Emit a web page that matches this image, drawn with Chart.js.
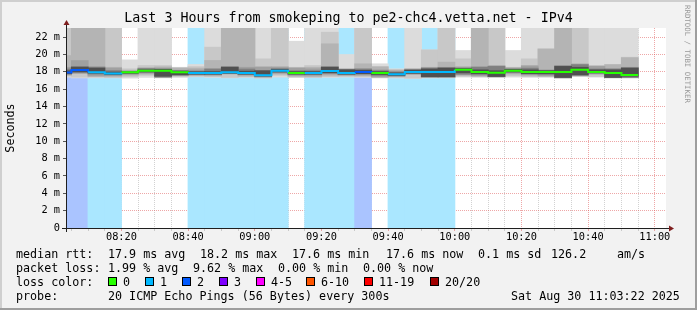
<!DOCTYPE html>
<html>
<head>
<meta charset="utf-8">
<script src="https://cdn.jsdelivr.net/npm/chart.js@4.4.1/dist/chart.umd.min.js"></script>
<style>
  body { margin: 0; background: #fff; }
  #wrap { position: relative; width: 697px; height: 310px; font-family: 'DejaVu Sans Mono', monospace; }
  #wrap canvas { position: absolute; left: 0; top: 0; }
  .leg { position: absolute; font-size: 11.7px; line-height: 14px; white-space: pre; color: #000; }
  .sq { position: absolute; width: 7px; height: 7px; border: 1px solid #000; }
</style>
</head>
<body>
<div id="wrap">
  <canvas id="smoke" width="697" height="310"></canvas>
  <div id="legend"></div>
</div>
<script>
// 5 minute bins, start time of each one
const binTimes = ['08:00', '08:05', '08:10', '08:15', '08:20', '08:25', '08:30', '08:35', '08:40', '08:45',
  '08:50', '08:55', '09:00', '09:05', '09:10', '09:15', '09:20', '09:25', '09:30', '09:35',
  '09:40', '09:45', '09:50', '09:55', '10:00', '10:05', '10:10', '10:15', '10:20', '10:25',
  '10:30', '10:35', '10:40', '10:45', '10:50', '10:55', '11:00'];
const graphStart = '08:03:22';
const graphEnd = '11:03:22';
const xLabelTimes = ['08:20', '08:40', '09:00', '09:20', '09:40', '10:00', '10:20', '10:40', '11:00'];
const rttTicks = [0, 1, 2, 3, 4, 5, 6, 7, 8, 9, 10, 11, 12, 13, 14, 15, 16, 17, 18, 19, 20, 21, 22, 23];
const rttTop = 23.04; // ms

// median rtt (ms) and lost pings (of 20) per bin
const medianRtt = [17.9, 18.2, 17.95, 17.8, 17.93, 18.12, 18.12, 17.95, 17.86, 17.86,
  17.93, 17.86, 17.6, 18.12, 17.86, 17.87, 18.09, 17.86, 17.97, 17.86,
  17.72, 17.97, 17.97, 17.97, 18.22, 17.97, 17.89, 18.12, 17.97, 17.97,
  17.97, 18.22, 17.97, 17.86, 17.63, null, null];
const lossCount = [2, 2, 1, 1, 0, 0, 0, 0, 1, 1,
  1, 1, 1, 1, 0, 1, 1, 1, 2, 0,
  1, 1, 1, 1, 0, 0, 0, 0, 0, 0,
  0, 0, 0, 0, 0, null, null];

// smoke: ping spread per bin, outer layer (1) to inner layer (6), in ms
const smokeHi1 = [24.5, 24.5, 24.5, 24.5, 19.35, 24.5, 24.5, 18.5, 18.82, 24.5,
  24.5, 24.5, 24.5, 24.5, 21.5, 24.5, 24.5, 19.97, 24.5, 18.9,
  18.32, 24.5, 20.5, 24.5, 20.43, 24.5, 24.5, 20.43, 24.5, 24.5,
  24.5, 24.5, 24.5, 24.5, 24.5, null, null];
const smokeHi2 = [24.5, 24.5, 24.5, 24.5, 18.32, 18.7, 18.7, 18.45, 18.58, 20.82,
  24.5, 24.5, 19.47, 24.5, 18.5, 18.7, 22.54, 18.32, 24.5, 18.58,
  18.25, 18.32, 20.5, 24.5, 19.47, 24.5, 24.5, 18.5, 19.47, 20.62,
  24.5, 24.5, 18.7, 18.82, 19.66, null, null];
const smokeHi3 = [19.85, 24.5, 24.5, 18.5, 18.15, 18.43, 18.55, 18.4, 18.4, 19.28,
  24.5, 24.5, 18.58, 18.58, 18.45, 18.5, 21.2, 18.3, 18.9, 18.55,
  18.15, 18.3, 18.5, 19.09, 18.58, 24.5, 18.7, 18.45, 18.7, 20.6,
  24.5, 18.9, 18.65, 18.8, 19.6, null, null];
const smokeHi4 = [18.5, 19.27, 18.58, 18.4, 18.05, 18.4, 18.4, 18.15, 18.2, 18.32,
  18.58, 18.5, 18.5, 18.5, 18.4, 18.32, 18.58, 18.28, 18.32, 18.2,
  18.05, 18.28, 18.45, 18.5, 18.5, 18.58, 18.65, 18.4, 18.65, 18.2,
  18.7, 18.85, 18.6, 18.32, 18.5, null, null];
const smokeHi5 = [18.3, 18.6, 18.5, 18.12, 18.0, 18.35, 18.3, 18.1, 18.05, 18.3,
  18.55, 18.3, 18.12, 18.35, 18.1, 18.1, 18.55, 18.25, 18.3, 18.1,
  17.95, 18.25, 18.4, 18.45, 18.4, 18.5, 18.6, 18.3, 18.4, 18.15,
  18.65, 18.8, 18.3, 18.3, 18.45, null, null];
const smokeHi6 = [18.1, 18.5, 18.4, 17.95, 17.97, 18.2, 18.25, 18.05, 17.98, 18.0,
  18.5, 18.05, 18.1, 18.25, 18.0, 18.0, 18.5, 18.2, 18.15, 18.0,
  17.85, 18.15, 18.3, 18.4, 18.35, 18.2, 18.1, 18.25, 18.2, 18.1,
  18.6, 18.5, 18.2, 18.2, 18.4, null, null];
const smokeLo1 = [17.4, 17.3, 17.3, 17.3, 17.28, 17.36, 17.3, 17.36, 17.43, 17.36,
  17.3, 17.36, 17.28, 17.4, 17.36, 17.36, 17.36, 17.4, 17.36, 17.3,
  17.3, 17.25, 17.3, 17.3, 17.4, 17.36, 17.36, 17.4, 17.36, 17.36,
  17.28, 17.45, 17.4, 17.3, 17.3, null, null];
const smokeLo2 = [17.5, 17.4, 17.4, 17.38, 17.43, 17.6, 17.35, 17.45, 17.5, 17.45,
  17.36, 17.43, 17.3, 17.6, 17.4, 17.4, 17.45, 17.5, 17.45, 17.36,
  17.36, 17.28, 17.35, 17.35, 17.5, 17.45, 17.4, 17.55, 17.45, 17.45,
  17.3, 17.5, 17.47, 17.32, 17.32, null, null];
const smokeLo3 = [17.6, 17.8, 17.45, 17.43, 17.6, 17.74, 17.38, 17.6, 17.6, 17.55,
  17.75, 17.5, 17.35, 17.74, 17.5, 17.43, 17.6, 17.55, 17.55, 17.4,
  17.45, 17.7, 17.38, 17.38, 17.6, 17.5, 17.43, 17.75, 17.55, 17.5,
  17.32, 17.55, 17.7, 17.33, 17.34, null, null];
const smokeLo4 = [17.7, 17.85, 17.55, 17.6, 17.7, 17.85, 17.4, 17.63, 17.65, 17.65,
  17.8, 17.65, 17.45, 17.85, 17.6, 17.6, 17.74, 17.65, 17.65, 17.43,
  17.5, 17.75, 17.4, 17.4, 17.7, 17.55, 17.45, 17.85, 17.7, 17.55,
  17.34, 17.6, 17.8, 17.34, 17.36, null, null];
const smokeLo5 = [17.75, 17.95, 17.75, 17.65, 17.8, 17.95, 17.42, 17.65, 17.7, 17.7,
  17.82, 17.7, 17.5, 17.95, 17.7, 17.7, 17.85, 17.7, 17.75, 17.6,
  17.55, 17.8, 17.42, 17.42, 17.74, 17.7, 17.46, 17.95, 17.75, 17.7,
  17.35, 17.63, 17.85, 17.35, 17.36, null, null];
const smokeLo6 = [17.8, 18.0, 17.85, 17.7, 17.85, 18.0, 17.5, 17.66, 17.75, 17.75,
  17.85, 17.75, 17.52, 18.0, 17.75, 17.75, 17.9, 17.75, 17.8, 17.7,
  17.6, 17.85, 17.45, 17.45, 17.9, 17.8, 17.47, 18.0, 17.8, 17.8,
  17.36, 17.66, 17.9, 17.36, 17.5, null, null];

const smokeHi = [smokeHi1, smokeHi2, smokeHi3, smokeHi4, smokeHi5, smokeHi6];
const smokeLo = [smokeLo1, smokeLo2, smokeLo3, smokeLo4, smokeLo5, smokeLo6];
const smokeColors = ['#dcdcdc', '#c8c8c8', '#b4b4b4', '#a0a0a0', '#808080', '#505050'];

const FONT = "'DejaVu Sans Mono', monospace";
const GRID = 'rgba(143,143,143,0.4)';
const MGRID = 'rgba(222,79,79,0.5)';

function toMin(t) {
  const p = t.split(':').map(Number);
  return (p[0] - 8) * 60 + p[1] + (p[2] || 0) / 60;
}

function lossColor(n) {
  if (n == null) return 'rgba(0,0,0,0)';
  if (n === 0) return '#26ff00';
  if (n === 1) return '#00b8ff';
  if (n === 2) return '#0059ff';
  if (n === 3) return '#7e00ff';
  if (n <= 5) return '#ff00ff';
  if (n <= 10) return '#ff5500';
  if (n <= 19) return '#ff0000';
  return '#a10000';
}

function lossBg(n) {
  if (n === 1) return '#aae7ff';
  if (n === 2) return '#aac4ff';
  return lossColor(n);
}

const binWidth = toMin(binTimes[1]) - toMin(binTimes[0]);
const xMin = toMin(graphStart);
const xMax = toMin(graphEnd);

const smokeSets = smokeColors.map((color, k) => ({
  type: 'bar',
  data: binTimes.map((t, i) => ({
    x: toMin(t) + binWidth / 2,
    y: smokeHi[k][i] == null ? null : [smokeLo[k][i], smokeHi[k][i]]
  })),
  backgroundColor: color,
  order: 8 - k
}));

const lossSet = {
  type: 'bar',
  data: binTimes.map((t, i) => ({
    x: toMin(t) + binWidth / 2,
    y: lossCount[i] ? [0, rttTop] : null
  })),
  backgroundColor: ctx => lossBg(lossCount[ctx.dataIndex]),
  order: 10
};

const medianSet = {
  type: 'line',
  data: binTimes.map((t, i) => ({
    x: toMin(t),
    y: medianRtt[i] != null ? medianRtt[i] : (i > 0 ? medianRtt[i - 1] : null)
  })),
  stepped: true,
  borderWidth: 2,
  pointRadius: 0,
  spanGaps: false,
  segment: {
    borderColor: ctx => lossColor(lossCount[ctx.p0DataIndex])
  },
  order: 0
};

const rrdFrame = {
  id: 'rrdFrame',
  beforeDraw(chart) {
    const {ctx, chartArea: a, width, height} = chart;
    ctx.save();
    ctx.fillStyle = '#f2f2f2';
    ctx.fillRect(0, 0, width, height);
    ctx.fillStyle = '#ffffff';
    ctx.fillRect(a.left, a.top, a.right - a.left, a.bottom - a.top);
    ctx.fillStyle = '#cfcfcf';
    ctx.fillRect(0, 0, width, 2);
    ctx.fillRect(0, 0, 2, height);
    ctx.fillStyle = '#9e9e9e';
    ctx.fillRect(0, height - 2, width, 2);
    ctx.fillRect(width - 2, 0, 2, height);
    ctx.restore();
  },
  afterDraw(chart) {
    const {ctx, chartArea: a} = chart;
    const x0 = a.left + 0.5, y0 = a.bottom + 0.5;
    ctx.save();
    ctx.strokeStyle = '#1f1f1f';
    ctx.lineWidth = 1;
    ctx.beginPath();
    ctx.moveTo(a.left - 4, y0);
    ctx.lineTo(a.right + 4, y0);
    ctx.moveTo(x0, a.bottom + 4);
    ctx.lineTo(x0, a.top - 4);
    ctx.stroke();
    ctx.fillStyle = '#7f1f1f';
    ctx.beginPath();
    ctx.moveTo(a.right + 3, y0 - 3);
    ctx.lineTo(a.right + 3, y0 + 3);
    ctx.lineTo(a.right + 8, y0);
    ctx.closePath();
    ctx.fill();
    ctx.beginPath();
    ctx.moveTo(x0 - 3, a.top - 3);
    ctx.lineTo(x0 + 3, a.top - 3);
    ctx.lineTo(x0, a.top - 8);
    ctx.closePath();
    ctx.fill();
    ctx.restore();
  }
};

new Chart(document.getElementById('smoke'), {
  type: 'bar',
  data: {datasets: [medianSet, ...smokeSets, lossSet]},
  plugins: [rrdFrame],
  options: {
    responsive: false,
    animation: false,
    devicePixelRatio: 1,
    layout: {padding: {left: 0, right: 0, top: 5, bottom: 62}},
    datasets: {
      bar: {
        grouped: false,
        barPercentage: 1,
        categoryPercentage: 1,
        borderWidth: 0,
        inflateAmount: 0.5
      }
    },
    scales: {
      x: {
        type: 'linear',
        offset: false,
        min: xMin,
        max: xMax,
        z: 1,
        afterBuildTicks: s => {
          s.ticks = binTimes.map(toMin).filter(v => v > xMin && v < xMax).map(v => ({value: v}));
        },
        afterFit: s => { s.height = 20; },
        grid: {
          offset: false,
          color: ctx => (ctx.tick && ctx.tick.value % 20 === 0) ? MGRID : GRID,
          lineWidth: 1,
          tickLength: 3,
          tickColor: ctx => (ctx.tick && ctx.tick.value % 20 === 0) ? MGRID : GRID
        },
        border: {display: false, dash: [1, 1]},
        ticks: {
          autoSkip: false,
          maxRotation: 0,
          padding: 0,
          color: '#000',
          font: {family: FONT, size: 10.3},
          callback: v => {
            const lbl = xLabelTimes.find(t => Math.abs(toMin(t) - v) < 0.01);
            return lbl || '';
          }
        }
      },
      y: {
        min: 0,
        max: rttTop,
        z: 1,
        afterBuildTicks: s => { s.ticks = rttTicks.map(v => ({value: v})); },
        afterFit: s => { s.width = 66; },
        grid: {
          color: ctx => {
            const v = ctx.tick ? ctx.tick.value : 0;
            if (v === 0) return 'rgba(0,0,0,0)';
            return v % 2 === 0 ? MGRID : GRID;
          },
          lineWidth: 1,
          tickLength: 3,
          tickColor: ctx => (ctx.tick && ctx.tick.value % 2 === 0) ? '#555' : '#999'
        },
        border: {display: false, dash: [1, 1]},
        ticks: {
          padding: 3,
          color: '#000',
          font: {family: FONT, size: 10.3},
          callback: v => v === 0 ? '0' : (v % 2 === 0 ? v + ' m' : '')
        },
        title: {
          display: true,
          text: 'Seconds',
          color: '#000',
          font: {family: FONT, size: 11.7, lineHeight: '14px'},
          padding: {top: 4, bottom: 0}
        }
      }
    },
    plugins: {
      legend: {display: false},
      tooltip: {enabled: false},
      title: {
        display: true,
        text: 'Last 3 Hours from smokeping to pe2-chc4.vetta.net - IPv4',
        color: '#000',
        font: {family: FONT, size: 13.3, weight: 'normal', lineHeight: '16px'},
        padding: {top: 6, bottom: 1}
      },
      subtitle: {
        display: true,
        position: 'right',
        align: 'start',
        text: 'RRDTOOL / TOBI OETIKER',
        color: '#999999',
        font: {family: FONT, size: 7.4, lineHeight: '8px'},
        padding: {top: 6, bottom: 17}
      }
    }
  }
});

// legend block below the graph
const legendRows = [
  [[16, 'median rtt:'], [108, '17.9 ms avg'], [200, '18.2 ms max'], [292, '17.6 ms min'],
   [386, '17.6 ms now'], [478, '0.1 ms sd'], [551, '126.2'], [617, 'am/s']],
  [[16, 'packet loss:'], [108, '1.99 % avg'], [193, '9.62 % max'], [278, '0.00 % min'], [363, '0.00 % now']],
  [[16, 'loss color:']],
  [[16, 'probe:'], [108, '20 ICMP Echo Pings (56 Bytes) every 300s'], [511, 'Sat Aug 30 11:03:22 2025']]
];
const lossLegend = [['0', 0], ['1', 1], ['2', 2], ['3', 3], ['4-5', 4], ['6-10', 6], ['11-19', 11], ['20/20', 20]];
const lossLegendX = [108, 145, 182, 219, 256, 306, 364, 430];
const rowY = [247, 261, 275, 289];

const legendEl = document.getElementById('legend');
legendRows.forEach((row, r) => {
  row.forEach(([x, txt]) => {
    const d = document.createElement('div');
    d.className = 'leg';
    d.style.left = x + 'px';
    d.style.top = rowY[r] + 'px';
    d.textContent = txt;
    legendEl.appendChild(d);
  });
});
lossLegend.forEach(([txt, n], k) => {
  const sq = document.createElement('div');
  sq.className = 'sq';
  sq.style.left = lossLegendX[k] + 'px';
  sq.style.top = (rowY[2] + 2) + 'px';
  sq.style.background = lossColor(n);
  legendEl.appendChild(sq);
  const d = document.createElement('div');
  d.className = 'leg';
  d.style.left = (lossLegendX[k] + 15) + 'px';
  d.style.top = rowY[2] + 'px';
  d.textContent = txt;
  legendEl.appendChild(d);
});
</script>
</body>
</html>
